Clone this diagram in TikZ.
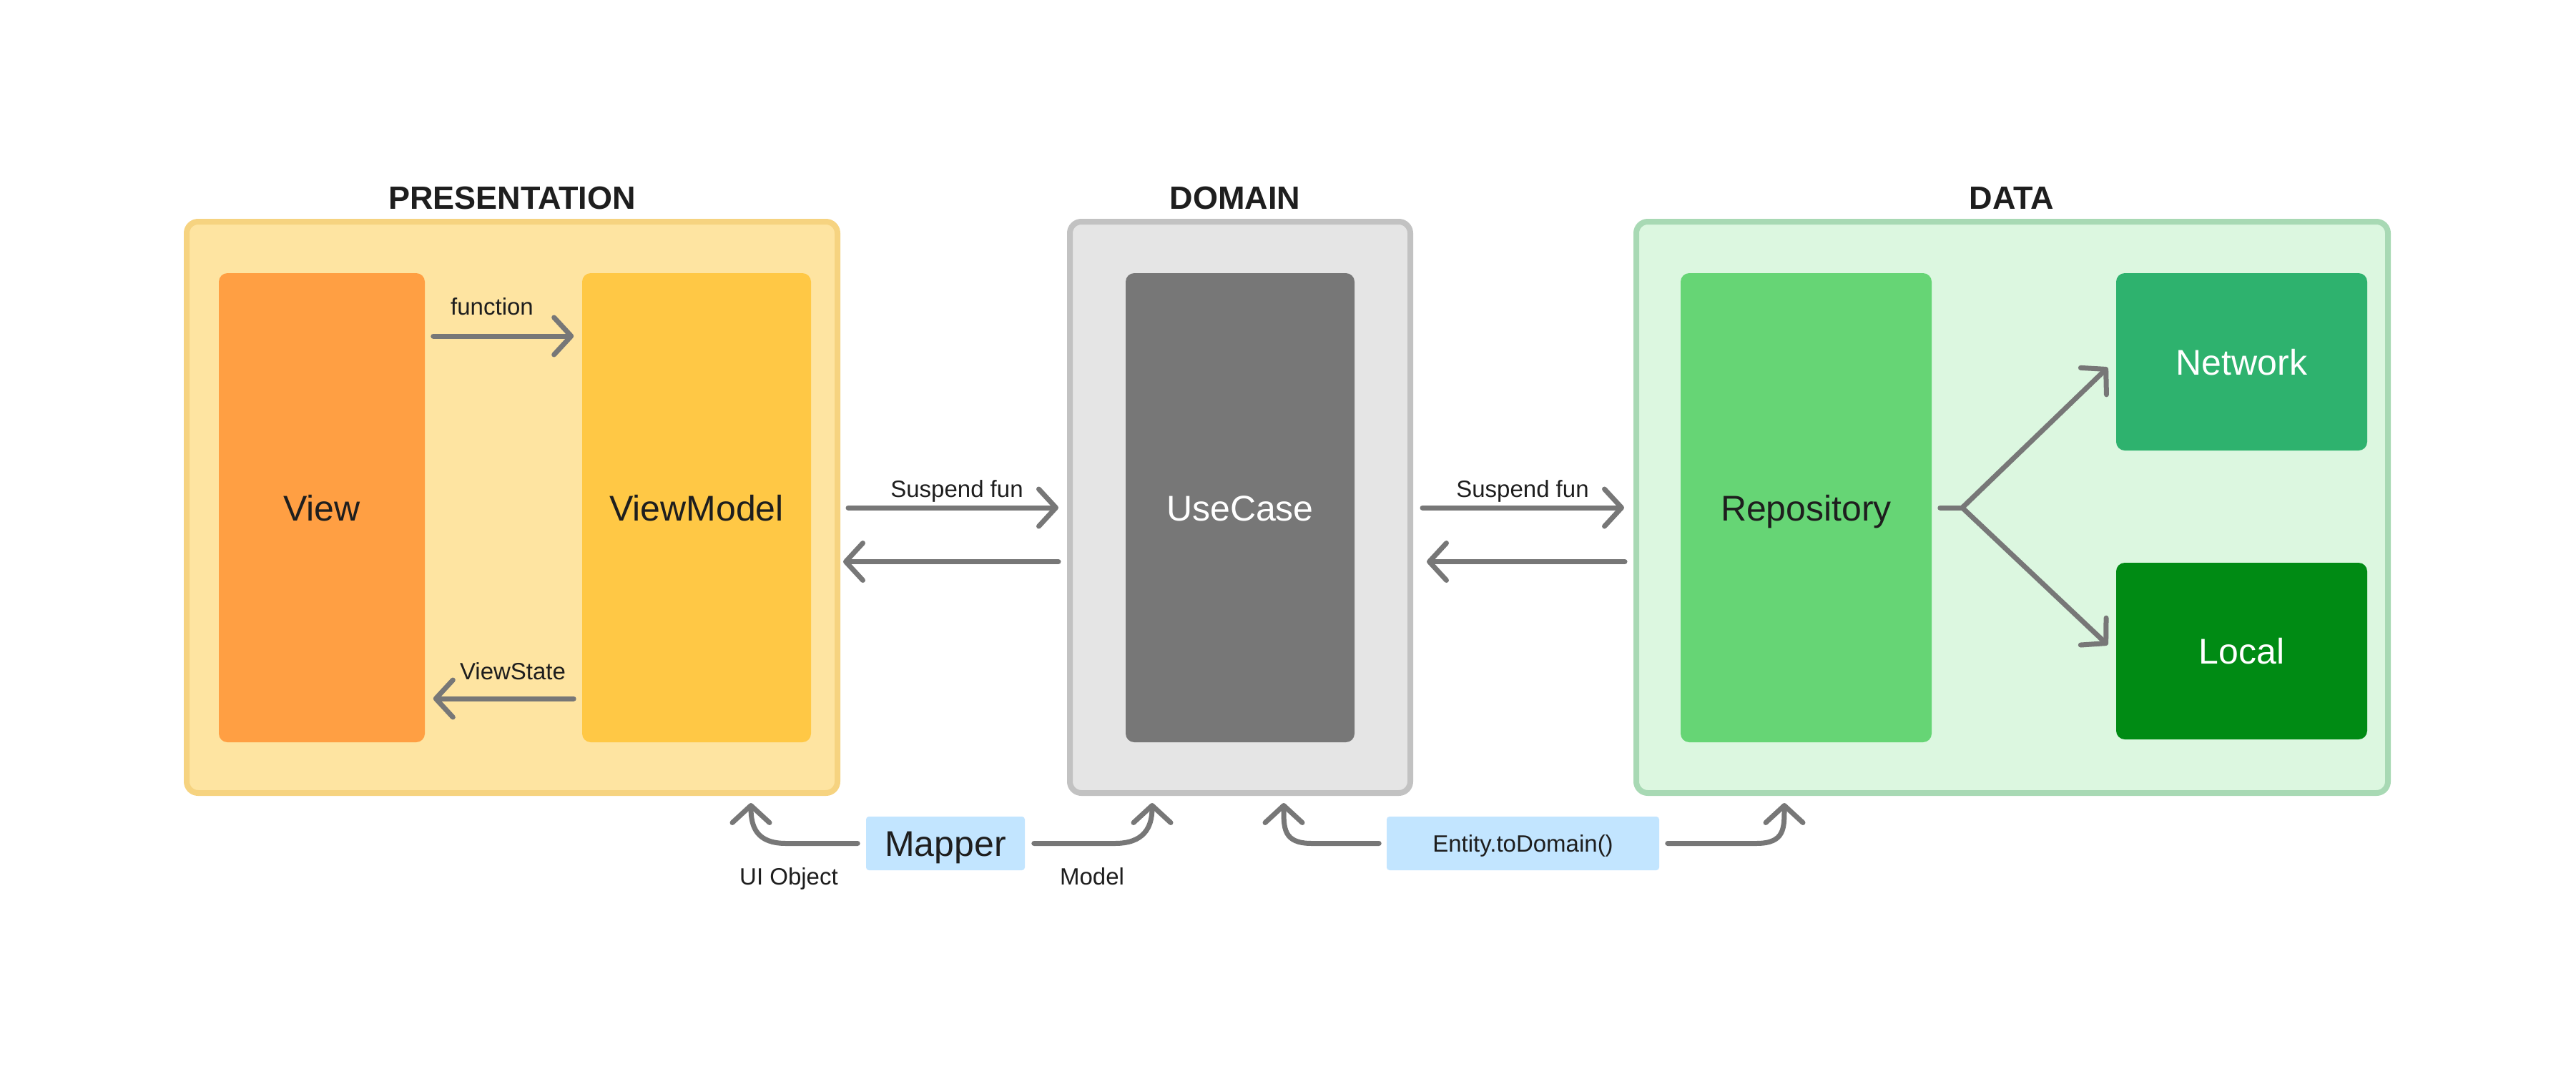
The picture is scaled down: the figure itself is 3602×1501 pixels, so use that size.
\documentclass[tikz,border=0pt]{standalone}
\usepackage{fontspec}
\setmainfont{Liberation Sans}
\usetikzlibrary{arrows.meta,calc}
\definecolor{presfill}{HTML}{FEE4A1}
\definecolor{presline}{HTML}{F6D380}
\definecolor{viewc}{HTML}{FF9F43}
\definecolor{vmc}{HTML}{FFC845}
\definecolor{domfill}{HTML}{E5E5E5}
\definecolor{domline}{HTML}{C2C2C2}
\definecolor{usec}{HTML}{777777}
\definecolor{datafill}{HTML}{DCF7E0}
\definecolor{dataline}{HTML}{A8D9B4}
\definecolor{repoc}{HTML}{66D575}
\definecolor{netc}{HTML}{2EB26E}
\definecolor{localc}{HTML}{008B14}
\definecolor{mapc}{HTML}{C2E5FF}
\definecolor{arrc}{HTML}{777777}
\definecolor{txt}{HTML}{1E1E1E}
\begin{document}
\begin{tikzpicture}[x=0.25pt,y=-0.25pt,
  layer/.style={draw, line width=2pt, rounded corners=4pt, inner sep=0pt},
  block/.style={rounded corners=3pt, inner sep=0pt, font=\fontsize{12.5}{15}\selectfont, text=txt, text height=9pt, text depth=0pt},
  title/.style={font=\bfseries\fontsize{11.25}{13}\selectfont, text=txt, anchor=base, inner sep=0pt},
  lbl/.style={font=\fontsize{8.25}{10}\selectfont, text=txt, inner sep=0pt, anchor=base},
  tag/.style={fill=mapc, rounded corners=1pt, inner sep=0pt, text=txt, text depth=0pt},
  arr/.style={draw=arrc, line width=1.75pt, line cap=round, line join=round, -{Straight Barb[length=6pt,width=13pt,line cap=round,line join=round]}},
  plain/.style={draw=arrc, line width=1.75pt, line cap=round},
]
\useasboundingbox (0,0) rectangle (3602,1501);
\fill[white] (0,0) rectangle (3602,1501);

% layers
\node[layer, draw=presline, fill=presfill, minimum width=227.5pt, minimum height=199.75pt] (pres) at (716,709.5) {};
\node[layer, draw=domline, fill=domfill, minimum width=119pt, minimum height=199.75pt] (dom) at (1734,709.5) {};
\node[layer, draw=dataline, fill=datafill, minimum width=262.75pt, minimum height=199.75pt] (data) at (2813.5,709.5) {};

\node[title] (tpres) at (716,292) {PRESENTATION};
\node[title] (tdom) at (1727,292) {DOMAIN};
\node[title] (tdata) at (2813,292) {DATA};

% blocks
\node[block, fill=viewc, minimum width=72pt, minimum height=164pt] (view) at (450,710) {View};
\node[block, fill=vmc, minimum width=80pt, minimum height=164pt] (vm) at (974,710) {ViewModel};
\node[block, fill=usec, text=white, minimum width=80pt, minimum height=164pt] (uc) at (1734,710) {UseCase};
\node[block, fill=repoc, minimum width=87.75pt, minimum height=164pt] (repo) at (2525.5,710) {Repository};
\node[block, fill=netc, text=white, minimum width=87.75pt, minimum height=62pt] (net) at (3134.5,506) {Network};
\node[block, fill=localc, text=white, minimum width=87.75pt, minimum height=61.75pt] (loc) at (3134.5,910.5) {Local};

\node[tag, minimum width=55.5pt, minimum height=18.75pt, font=\fontsize{12.5}{15}\selectfont, text height=9pt] (mapper) at (1322,1179.5) {Mapper};
\node[tag, minimum width=95.25pt, minimum height=18.75pt, font=\fontsize{8.25}{10}\selectfont, text height=6pt] (ent) at (2129.5,1179.5) {Entity.toDomain()};

% labels
\node[lbl] (lfun) at (688,440) {function};
\node[lbl] (lvs) at (717,950) {ViewState};
\node[lbl] (lsus1) at (1338,695) {Suspend fun};
\node[lbl] (lsus2) at (2129,695) {Suspend fun};
\node[lbl] (lui) at (1103,1237) {UI Object};
\node[lbl] (lmod) at (1527,1237) {Model};

% arrows inside presentation
\draw[arr] ($(view.east)+(11,-240)$) -- ($(vm.west)+(-11,-240)$);
\draw[arr] ($(vm.west)+(-11,267)$) -- ($(view.east)+(11,267)$);

% between layers
\draw[arr] ($(pres.east)+(11,0.5)$) -- ($(dom.west)+(-12,0.5)$);
\draw[arr] ($(dom.west)+(-12,76)$) -- ($(pres.east)+(4,76)$);
\draw[arr] ($(dom.east)+(13,0.5)$) -- ($(data.west)+(-13,0.5)$);
\draw[arr] ($(data.west)+(-12,76)$) -- ($(dom.east)+(19,76)$);

% fork in data
\coordinate (fork) at ($(repo.east)+(42,0)$);
\draw[plain] ($(repo.east)+(11,0)$) -- (fork);
\draw[arr] (fork) -- ($(net.west)+(-11,8)$);
\draw[arr] (fork) -- ($(loc.west)+(-11,-8.5)$);

% bottom mappers
\draw[arr] ($(mapper.west)+(-11,0)$) -- ++(-100,0) .. controls +(-40,0) and +(0,35) .. ($(pres.south)+(334,10)$);
\draw[arr] ($(mapper.east)+(12,0)$) -- ++(113,0) .. controls +(40,0) and +(0,35) .. ($(dom.south)+(-123,10)$);
\draw[arr] ($(ent.west)+(-10,0)$) -- ++(-94,0) .. controls +(-40,0) and +(0,35) .. ($(dom.south)+(61,10)$);
\draw[arr] ($(ent.east)+(11,0)$) -- ++(124,0) .. controls +(40,0) and +(0,35) .. ($(data.south)+(-318.5,10)$);
\end{tikzpicture}
\end{document}
